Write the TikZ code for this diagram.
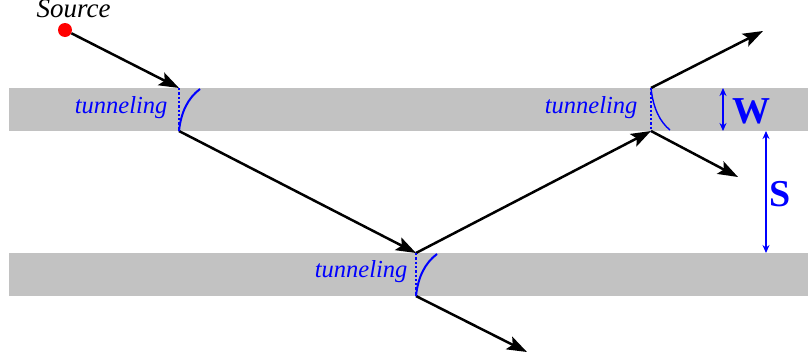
\documentclass[tikz,border=0pt]{standalone}
\usepackage{fontspec}
\setmainfont{Liberation Serif}
\newfontfamily\tnr{Liberation Serif}
\usetikzlibrary{arrows.meta}
\begin{document}
\begin{tikzpicture}[x=1pt,y=-1pt,
  band/.style={fill=black!24,draw=none},
  ray/.style={line width=2.5pt,-{Stealth[length=20pt,width=14pt,inset=4pt]}},
  tunline/.style={blue,line width=2.3pt,dotted},
  tunarc/.style={blue,line width=2pt},
  tunlabel/.style={blue,font=\tnr\fontsize{24.5}{24.5}\selectfont\itshape,anchor=east},
  dim/.style={blue,line width=1.4pt,{Stealth[length=8pt,width=7pt]}-{Stealth[length=8pt,width=7pt]}},
  dimlabel/.style={blue,font=\tnr\fontsize{38}{38}\selectfont\bfseries}]
\useasboundingbox (0,0) rectangle (808,362);
\fill[band] (9,88) rectangle (808,131);
\fill[band] (9,253) rectangle (808,296);
% source
\node[circle,fill=red,inner sep=0pt,minimum size=14pt] (src) at (65,30) {};
\node[font=\tnr\fontsize{27}{27}\selectfont\itshape,anchor=base] (srclbl) at (73.5,17) {Source};
% interaction points
\coordinate (a1) at (179,88);
\coordinate (a2) at (179,131);
\coordinate (b1) at (416,253);
\coordinate (b2) at (416,296);
\coordinate (c1) at (651,88);
\coordinate (c2) at (651,131);
\coordinate (bout) at (527,352);
\coordinate (cup) at (763,31);
\coordinate (cdown) at (738,177);
% rays
\draw[ray] (src) -- (a1);
\draw[ray] (a2) -- (b1);
\draw[ray] (b1) -- (c2);
\draw[ray] (b2) -- (bout);
\draw[ray] (c1) -- (cup);
\draw[ray] (c2) -- (cdown);
% tunneling marks
\draw[tunline] (a1) -- (a2);
\draw[tunline] (b1) -- (b2);
\draw[tunline] (c1) -- (c2);
\draw[tunarc] (a2) .. controls (181,112) and (188,98) .. (200,89);
\draw[tunarc] (b2) .. controls (418,277) and (425,263) .. (437,254);
\draw[tunarc,line width=1.4pt] (c1) .. controls (653,108) and (660,122) .. (670,130);
\node[tunlabel] (t1) at (171,108) {tunneling};
\node[tunlabel] (t2) at (411,272) {tunneling};
\node[tunlabel] (t3) at (641,108) {tunneling};
% dimensions
\coordinate (w1) at (723,88);
\coordinate (w2) at (723,131);
\coordinate (s1) at (766,131);
\coordinate (s2) at (766,253);
\draw[dim] (w1) -- (w2);
\draw[dim] (s1) -- (s2);
\node[dimlabel] (W) at (751,111) {W};
\node[dimlabel] (S) at (780,194) {S};
\end{tikzpicture}
\end{document}
